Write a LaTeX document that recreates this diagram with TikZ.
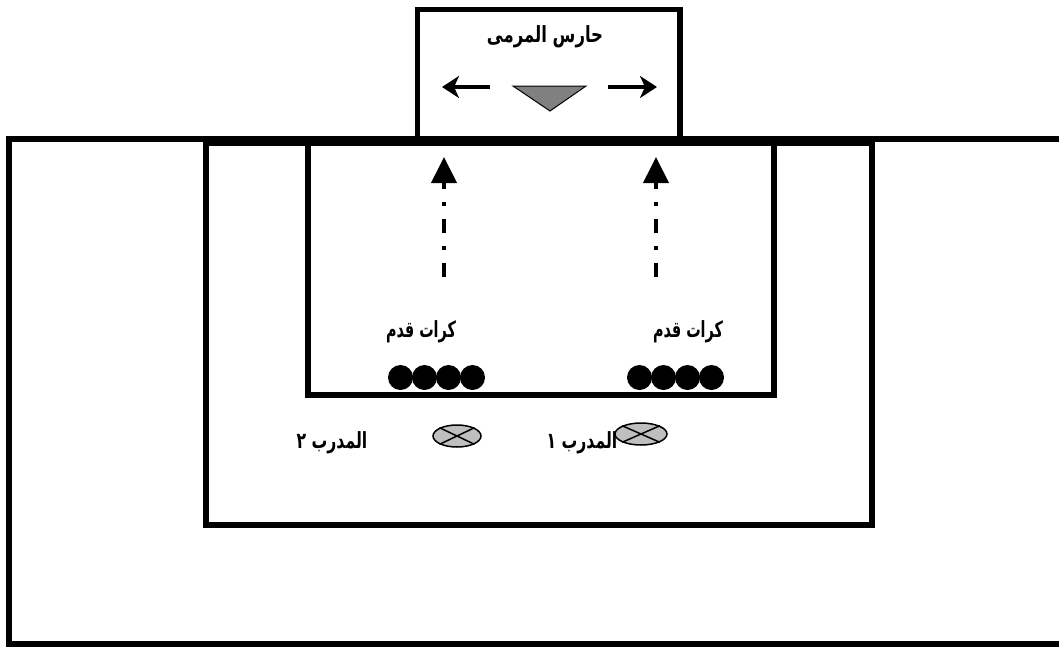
\documentclass[tikz,border=0pt]{standalone}
\usepackage{fontspec}
\usepackage{graphicx}
\usetikzlibrary{arrows.meta,shapes.geometric}
\TeXXeTstate=1
\newfontfamily\arabicfont[Script=Arabic]{DejaVu Sans}
% Arabic label, stretched vertically (optional horizontal factor)
\newcommand{\artext}[2][1]{\scalebox{#1}[1.35]{\beginR #2\endR}}
\tikzset{
  field/.style={line width=6pt, line join=miter},
  lbl/.style={font=\arabicfont\bfseries\fontsize{16.5}{19}\selectfont, inner sep=0pt},
  ball/.style={circle, fill=black, minimum size=25pt, inner sep=0pt},
  coach/.style={ellipse, draw=black, line width=1.5pt, fill=black!25, inner sep=0pt},
  run/.style={line width=4pt, dash pattern=on 14pt off 13pt on 4pt off 13pt,
    -{Triangle[length=26pt,width=25pt]}},
  move/.style={line width=3.5pt, -{Stealth[length=17pt,width=22pt,inset=5pt]}},
}
\begin{document}
\begin{tikzpicture}[x=1pt,y=-1pt]
\useasboundingbox (0,0) rectangle (1059,648);
\clip (0,0) rectangle (1059,648);

% pitch lines
\draw[field] (9,139) rectangle (1080,644);
\draw[field] (206,143) rectangle (872,524.5);
\draw[field] (308,143) rectangle (774,394.5);
% goal
\draw[line width=5.5pt] (417.5,139) -- (417.5,9.5) -- (680,9.5) -- (680,139);

% goalkeeper
\node[lbl] (gk) at (545,37) {\artext{حارس المرمى}};
\coordinate (kA) at (513,86);
\coordinate (kB) at (586,86);
\coordinate (kC) at (550,111);
\draw[line width=1pt, fill=black!50, line join=miter] (kA) -- (kB) -- (kC) -- cycle;
\coordinate (gkL0) at (490,87);
\coordinate (gkL1) at (442,87);
\coordinate (gkR0) at (608,87);
\coordinate (gkR1) at (657,87);
\draw[move] (gkL0) -- (gkL1);
\draw[move] (gkR0) -- (gkR1);

% ball runs
\coordinate (runL0) at (444,277);
\coordinate (runL1) at (444,157);
\coordinate (runR0) at (656,277);
\coordinate (runR1) at (656,157);
\draw[run] (runL0) -- (runL1);
\draw[run] (runR0) -- (runR1);

% footballs
\node[lbl] (ballsL) at (421,332) {\artext[0.87]{كرات قدم}};
\node[lbl] (ballsR) at (688,332) {\artext[0.87]{كرات قدم}};
\foreach \i/\x in {1/400.5,2/424.5,3/448.5,4/472.5}
  \node[ball] (bl\i) at (\x,377.5) {};
\foreach \i/\x in {1/639.5,2/663.5,3/687.5,4/711.5}
  \node[ball] (br\i) at (\x,377.5) {};

% coaches
\node[coach, minimum width=48pt, minimum height=22pt] (c2) at (457,436) {};
\node[coach, minimum width=52pt, minimum height=22pt] (c1) at (641,434) {};
\foreach \c in {c1,c2}{
  \draw[line width=1.5pt] (\c.north west) -- (\c.south east);
  \draw[line width=1.5pt] (\c.north east) -- (\c.south west);
}
\node[lbl] (t2) at (332,443) {\artext[0.95]{المدرب ٢}};
\node[lbl] (t1) at (582,443) {\artext[0.95]{المدرب ١}};
\end{tikzpicture}
\end{document}
